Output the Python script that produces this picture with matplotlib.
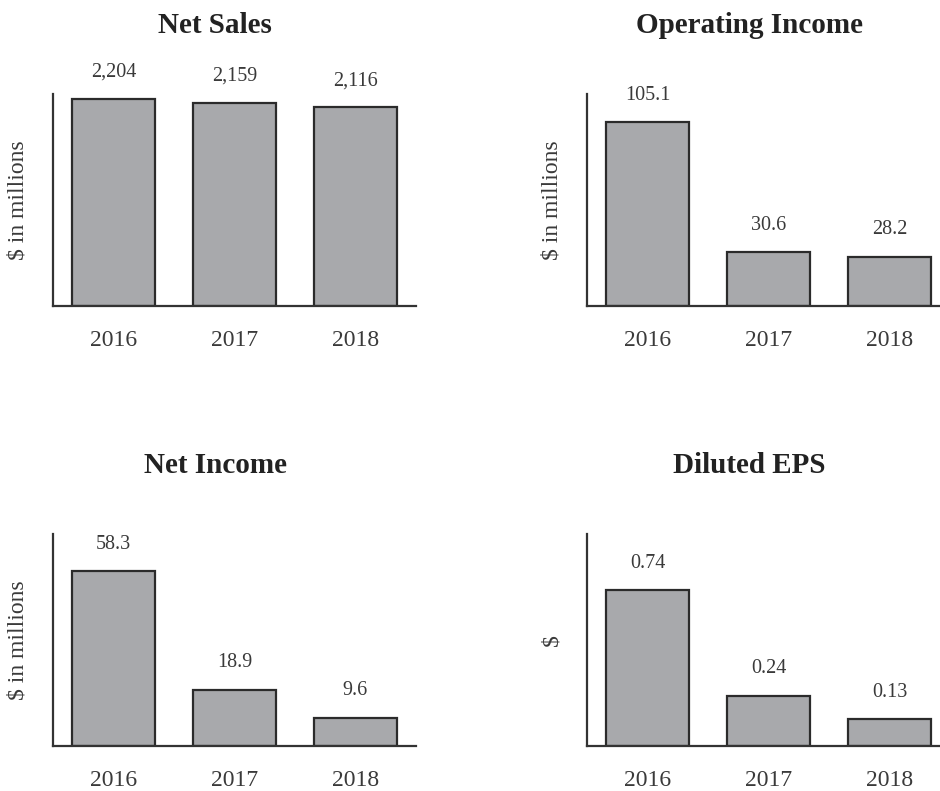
#!/usr/bin/env python3
"""Dört panelli finansal özet: Net Sales, Operating Income, Net Income, Diluted EPS."""
import matplotlib

matplotlib.use("Agg")
import matplotlib.pyplot as plt

plt.rcParams["font.family"] = ["Liberation Serif", "DejaVu Serif"]

YEARS = ["2016", "2017", "2018"]
NET_SALES = [2204, 2159, 2116]
OPERATING_INCOME = [105.1, 30.6, 28.2]
NET_INCOME = [58.3, 18.9, 9.6]
DILUTED_EPS = [0.74, 0.24, 0.13]

SALES_LABELS = ["2,204", "2,159", "2,116"]
OPINC_LABELS = ["105.1", "30.6", "28.2"]
NETINC_LABELS = ["58.3", "18.9", "9.6"]
EPS_LABELS = ["0.74", "0.24", "0.13"]

BAR_COLOR = "#a8a9ac"
EDGE_COLOR = "#2b2b2b"
TEXT_COLOR = "#3a3a3a"


def panel(fig, rect, vals, labels, title, ylabel, ymax):
    ax = fig.add_axes(rect)
    x = list(range(len(YEARS)))
    ax.bar(x, vals, width=0.69, color=BAR_COLOR, edgecolor=EDGE_COLOR, linewidth=1.6)
    for xi, v, lab in zip(x, vals, labels):
        ax.annotate(lab, xy=(xi, v), xytext=(0, 16), textcoords="offset points",
                    ha="center", va="baseline", fontsize=14.5, color=TEXT_COLOR)
    ax.set_xlim(-0.5, 2.5)
    ax.set_ylim(0, ymax)
    ax.set_xticks(x)
    ax.set_xticklabels(YEARS, fontsize=17, color=TEXT_COLOR)
    ax.tick_params(axis="x", length=0, pad=17)
    ax.set_yticks([])
    for s in ("top", "right"):
        ax.spines[s].set_visible(False)
    for s in ("left", "bottom"):
        ax.spines[s].set_linewidth(1.6)
        ax.spines[s].set_color("#333333")
    ax.set_ylabel(ylabel, fontsize=17, color=TEXT_COLOR, labelpad=18)
    ax.set_title(title, fontsize=21, fontweight="bold", color="#222222", x=0.447, pad=44)
    return ax


def main():
    fig = plt.figure(figsize=(9.4, 7.91), dpi=100)
    w, h = 0.386, 0.268
    panel(fig, [0.0564, 0.6131, w, h], NET_SALES, SALES_LABELS,
          "Net Sales", "$ in millions", 2257)
    panel(fig, [0.6245, 0.6131, w, h], OPERATING_INCOME, OPINC_LABELS,
          "Operating Income", "$ in millions", 121.1)
    panel(fig, [0.0564, 0.0563, w, 0.269], NET_INCOME, NETINC_LABELS,
          "Net Income", "$ in millions", 70.6)
    panel(fig, [0.6245, 0.0563, w, 0.269], DILUTED_EPS, EPS_LABELS,
          "Diluted EPS", "$", 1.006)
    fig.savefig("out.png", dpi=100)
    plt.close(fig)


if __name__ == "__main__":
    main()
